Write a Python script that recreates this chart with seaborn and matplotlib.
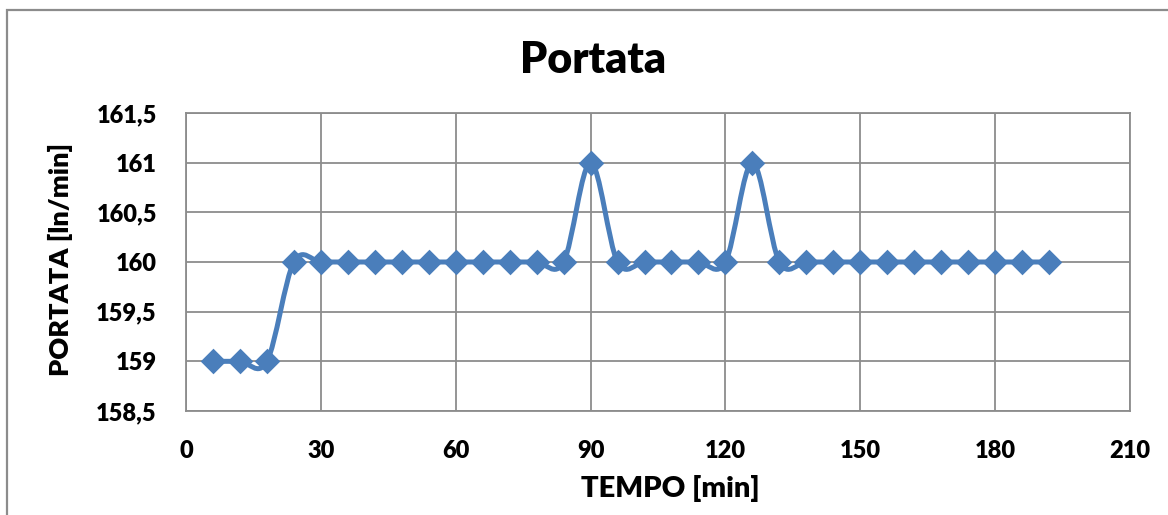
import numpy as np
import pandas as pd
import matplotlib
matplotlib.use("Agg")
import matplotlib.pyplot as plt
from matplotlib.path import Path
from matplotlib.patches import PathPatch, Rectangle
from matplotlib.ticker import FuncFormatter, MultipleLocator
import seaborn as sns

# Flow-rate readings over time
tempo_min = [6, 12, 18, 24, 30, 36, 42, 48, 54, 60, 66, 72, 78, 84, 90, 96,
             102, 108, 114, 120, 126, 132, 138, 144, 150, 156, 162, 168, 174,
             180, 186, 192]
portata = [159, 159, 159, 160, 160, 160, 160, 160, 160, 160, 160, 160, 160,
           160, 161, 160, 160, 160, 160, 160, 161, 160, 160, 160, 160, 160,
           160, 160, 160, 160, 160, 160]

title = "Portata"
x_label = "TEMPO [min]"
y_label = "PORTATA [ln/min]"

LINE = "#4A7EBB"
GRID = "#8C8C8C"
TEXT = "#000000"

sns.set_style("white")
plt.rcParams["font.family"] = ["Lato", "DejaVu Sans"]
plt.rcParams["font.weight"] = "bold"
plt.rcParams["text.color"] = TEXT
plt.rcParams["axes.labelcolor"] = TEXT
plt.rcParams["xtick.color"] = TEXT
plt.rcParams["ytick.color"] = TEXT

df = pd.DataFrame({"tempo": tempo_min, "portata": portata})

fig = plt.figure(figsize=(11.68, 5.15), dpi=100)
ax = fig.add_axes([186 / 1168, 1 - 411 / 515, (1130 - 186) / 1168, (411 - 113) / 515])

# Smoothed connecting line: cubic Bezier segments with Catmull-Rom tangents
pts = df[["tempo", "portata"]].to_numpy(dtype=float)
ext = np.vstack([pts[0], pts, pts[-1]])
verts = [tuple(pts[0])]
codes = [Path.MOVETO]
for i in range(len(pts) - 1):
    p_prev, p0, p1, p_next = ext[i], ext[i + 1], ext[i + 2], ext[i + 3]
    c1 = p0 + (p1 - p_prev) / 6.0
    c2 = p1 - (p_next - p0) / 6.0
    verts += [tuple(c1), tuple(c2), tuple(p1)]
    codes += [Path.CURVE4] * 3
ax.add_patch(PathPatch(Path(verts, codes), facecolor="none", edgecolor=LINE,
                       linewidth=3.6, capstyle="round", joinstyle="round", zorder=3))

sns.scatterplot(data=df, x="tempo", y="portata", marker="D", s=170,
                color=LINE, edgecolor=LINE, linewidth=0, ax=ax, zorder=4,
                legend=False)

ax.set_xlim(0, 210)
ax.set_ylim(158.5, 161.5)
ax.xaxis.set_major_locator(MultipleLocator(30))
ax.yaxis.set_major_locator(MultipleLocator(0.5))


def comma_fmt(v, _pos):
    if abs(v - round(v)) < 1e-9:
        return f"{int(round(v))}"
    return f"{v:.1f}".replace(".", ",")


ax.yaxis.set_major_formatter(FuncFormatter(comma_fmt))
ax.xaxis.set_major_formatter(FuncFormatter(lambda v, _p: f"{int(round(v))}"))

ax.grid(True, color=GRID, linewidth=1.3)
ax.set_axisbelow(True)
for side, sp in ax.spines.items():
    sp.set_color(GRID)
    sp.set_linewidth(1.3)

ax.tick_params(axis="both", length=0, labelsize=17, pad=21)
for lab in ax.get_xticklabels() + ax.get_yticklabels():
    lab.set_fontweight("heavy")

ax.set_xlabel(x_label, fontsize=21, fontweight="heavy")
ax.xaxis.set_label_coords(0.5127, -0.216)
ax.set_ylabel(y_label, fontsize=19.5, fontweight="heavy")
ax.yaxis.set_label_coords(-0.120, 0.51)
fig.text(593 / 1168, 1 - 60 / 515, title, ha="center", va="center",
         fontsize=31, fontweight="heavy")

# Chart-area frame
fig.patches.append(Rectangle((7 / 1168, -0.1), 1.2, 1 - 10 / 515 + 0.1,
                             transform=fig.transFigure, fill=False,
                             edgecolor="#8C8C8C", linewidth=1.6))

fig.savefig("out.png", dpi=100)
